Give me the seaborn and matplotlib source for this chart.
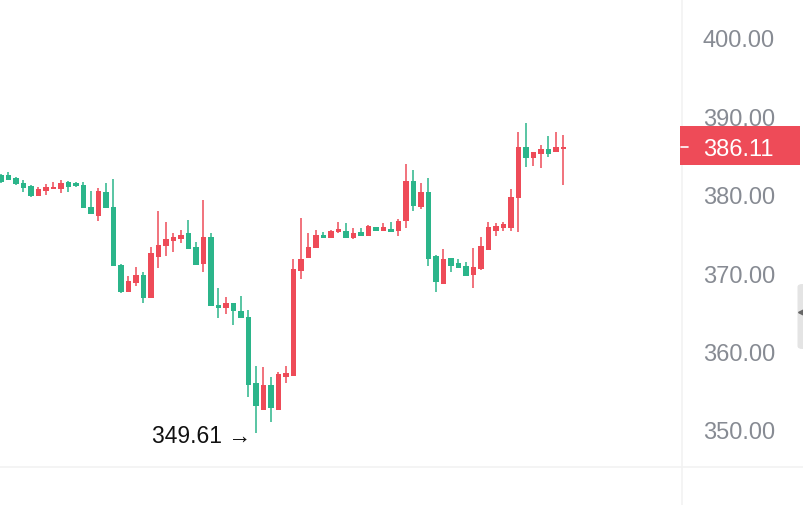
import numpy as np
import pandas as pd
import matplotlib
matplotlib.use("Agg")
import matplotlib.pyplot as plt
import matplotlib.transforms as mtransforms
from matplotlib.patches import Rectangle, FancyBboxPatch
from matplotlib.lines import Line2D
import seaborn as sns

# ---------------- data ----------------
opens = [382.5, 382.5, 382.1, 381.5, 381.1, 379.85, 380.5, 380.75, 380.75, 381.6,
         381.5, 381.25, 378.45, 377.3, 380.4, 378.45, 371.05, 367.6, 368.75, 369.77,
         366.84, 372.07, 373.47, 374.11, 374.36, 375.13, 373.34, 371.17, 374.62, 365.94,
         365.56, 366.2, 365.18, 364.41, 356.0, 352.55, 355.74, 352.55, 356.76, 356.89,
         370.28, 371.94, 373.21, 374.87, 374.49, 375.26, 375.38, 374.49, 375.26, 374.74,
         375.89, 375.38, 375.64, 375.38, 376.66, 381.76, 378.44, 380.36, 372.19, 368.62,
         371.94, 371.3, 370.92, 369.77, 370.54, 372.96, 375.38, 375.77, 375.77, 379.59,
         386.1, 384.7, 385.2, 385.84, 385.46, 385.9]
highs = [382.6, 382.9, 382.25, 381.9, 381.25, 381.0, 381.4, 381.6, 381.9, 381.7,
         381.6, 381.6, 380.5, 380.87, 381.5, 382.0, 371.2, 369.64, 370.8, 370.15,
         373.34, 377.93, 376.53, 375.13, 375.51, 376.79, 373.98, 379.34, 375.13, 368.11,
         366.96, 366.2, 367.09, 365.31, 358.16, 358.04, 356.76, 357.4, 358.16, 371.81,
         377.04, 375.13, 375.51, 375.26, 375.45, 376.53, 376.4, 375.77, 375.77, 376.1,
         375.95, 376.4, 376.53, 376.91, 383.93, 383.16, 381.5, 382.14, 372.3, 373.09,
         371.94, 371.81, 371.43, 373.21, 374.62, 376.53, 376.4, 376.53, 380.74, 388.0,
         389.16, 385.5, 386.35, 387.5, 388.0, 387.63]
lows = [381.5, 381.85, 381.25, 380.35, 379.7, 379.85, 379.95, 380.74, 380.2, 380.35,
        381.0, 378.3, 377.5, 376.66, 378.3, 370.9, 367.45, 367.6, 368.37, 366.2,
        366.84, 370.66, 372.19, 372.7, 373.85, 373.09, 371.05, 370.15, 365.82, 364.29,
        364.8, 363.39, 364.29, 354.21, 349.61, 352.55, 351.02, 352.55, 356.0, 356.89,
        369.26, 371.94, 373.21, 374.49, 374.45, 375.13, 374.49, 374.36, 374.74, 374.7,
        375.35, 375.38, 375.26, 374.74, 375.77, 377.93, 378.19, 370.92, 367.6, 368.62,
        370.15, 370.66, 369.64, 368.11, 370.41, 372.96, 374.74, 375.38, 375.38, 375.26,
        383.55, 383.67, 383.42, 384.82, 385.46, 381.25]
closes = [381.6, 381.9, 381.4, 380.9, 379.85, 380.75, 381.0, 381.0, 381.5, 381.0,
          381.1, 378.3, 377.55, 380.5, 378.3, 370.9, 367.6, 369.0, 369.77, 366.84,
          372.58, 373.6, 374.36, 374.62, 374.87, 373.09, 371.05, 374.62, 365.82, 365.56,
          366.2, 365.18, 364.29, 355.74, 353.06, 355.74, 352.81, 357.14, 357.27, 370.54,
          371.81, 373.34, 374.87, 374.49, 375.38, 375.64, 374.49, 375.13, 374.74, 376.02,
          375.38, 375.89, 375.26, 376.66, 381.76, 378.57, 380.36, 371.81, 368.88, 371.81,
          370.92, 370.66, 369.64, 370.79, 373.47, 375.89, 376.02, 376.28, 379.72, 386.1,
          384.7, 385.46, 385.84, 385.2, 386.1, 386.11]
price_ticks = [350, 360, 370, 380, 390, 400]
last_price = 386.11
low_label = "349.61"

UP = "#ee4b58"
DOWN = "#2bb58a"

df = pd.DataFrame({"open": opens, "high": highs, "low": lows, "close": closes})
df["idx"] = np.arange(len(df))
df["up"] = df["close"] >= df["open"]

# ---------------- figure ----------------
sns.set_theme(style="white")
plt.rcParams["font.family"] = ["Liberation Sans", "DejaVu Sans"]

W, H = 804, 506
fig = plt.figure(figsize=(W / 100, H / 100), dpi=100)
fig.patch.set_facecolor("white")
ax_right_px = 682
ax_bottom_px = 468
ax = fig.add_axes([0, (H - ax_bottom_px) / H, ax_right_px / W, ax_bottom_px / H])
ax.set_facecolor("white")

colors = np.where(df["up"], UP, DOWN)
body_bottom = np.minimum(df["open"], df["close"])
body_h = np.maximum(np.abs(df["close"] - df["open"]), 0.22)

ax.vlines(df["idx"], df["low"], df["high"], colors=colors, linewidth=1.1, zorder=2)
ax.bar(df["idx"], body_h, bottom=body_bottom, width=0.68, color=colors,
       edgecolor="none", linewidth=0, zorder=3)

# scales
px_per_unit = 7.84
y_at_400 = 39
ax.set_ylim(400 - (ax_bottom_px - y_at_400) / px_per_unit, 400 + y_at_400 / px_per_unit)
ax.set_xlim(-1 / 7.5, (ax_right_px - 1) / 7.5)

ax.yaxis.tick_right()
ax.set_yticks(price_ticks)
ax.set_yticklabels([f"{t:.2f}" for t in price_ticks])
ax.tick_params(axis="y", length=0, pad=15, labelsize=17, labelcolor="#878b93")
ax.set_xticks([])
for s in ax.spines.values():
    s.set_visible(False)
ax.grid(False)

# separator lines
fig.add_artist(Line2D([ax_right_px / W, ax_right_px / W], [0, 1],
                      transform=fig.transFigure, color="#f2f2f2", linewidth=1.2))
fig.add_artist(Line2D([0, 1], [(H - ax_bottom_px) / H] * 2,
                      transform=fig.transFigure, color="#f2f2f2", linewidth=1.2))

# last price label
bt = mtransforms.blended_transform_factory(fig.transFigure, ax.transData)
box_top = 400 - (127 - y_at_400) / px_per_unit
box_bot = 400 - (166 - y_at_400) / px_per_unit
rect = Rectangle((680 / W, box_bot), 120 / W, box_top - box_bot, transform=bt,
                 facecolor=UP, edgecolor="none", zorder=10, clip_on=False)
fig.add_artist(rect)
fig.add_artist(Line2D([681 / W, 688 / W], [last_price, last_price], transform=bt,
                      color="white", linewidth=1.2, zorder=11))
fig.text(703 / W, last_price, f"{last_price:.2f}", transform=bt, color="white",
         fontsize=17, ha="left", va="center_baseline", zorder=12)

# low annotation
low_i = int(np.argmin(df["low"].values))
ax.annotate(f"{low_label} →", xy=(low_i, df["low"].iloc[low_i]),
            xytext=(-5, 0), textcoords="offset pixels", ha="right",
            va="center_baseline", fontsize=16.5, color="#111111",
            family=["Liberation Sans", "DejaVu Sans"], zorder=6)

# scroll tab on right edge
tab = FancyBboxPatch((797.5 / W, (H - 350) / H), 10 / W, 65 / H,
                     boxstyle="round,pad=0,rounding_size=0.006",
                     transform=fig.transFigure, facecolor="#e4e4e4",
                     edgecolor="none", zorder=9)
fig.add_artist(tab)
fig.add_artist(Line2D([801.5 / W], [(H - 313) / H], transform=fig.transFigure,
                      marker="<", markersize=4, color="#666666", linestyle="none",
                      zorder=10))

fig.savefig("out.png", dpi=100, facecolor="white")
